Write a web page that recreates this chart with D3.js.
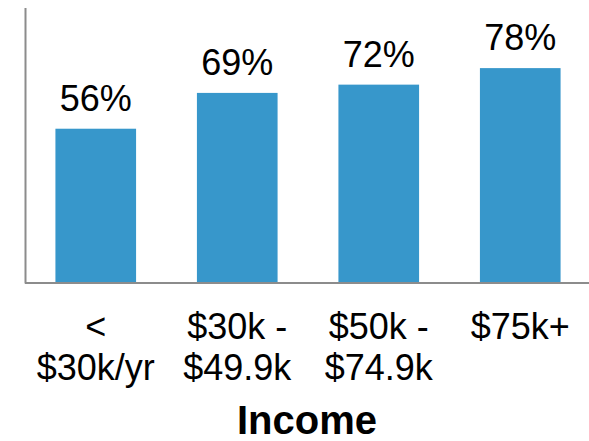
<!DOCTYPE html>
<html>
<head>
<meta charset="utf-8">
<script src="https://cdn.jsdelivr.net/npm/d3@7"></script>
<style>
  body { margin: 0; background: #fff; }
  text { font-family: "Liberation Sans", Arial, sans-serif; fill: #000; }
</style>
</head>
<body>
<svg id="chart"></svg>
<script>
// Data
var categories = ["< $30k/yr", "$30k - $49.9k", "$50k - $74.9k", "$75k+"];
var tickLines = [["<", "$30k/yr"], ["$30k -", "$49.9k"], ["$50k -", "$74.9k"], ["$75k+"]];
var values = [56, 69, 72, 78];
var xTitle = "Income";

// Chart dimensions
var width = 589, height = 441;
var margin = { top: 7.5, right: 0, bottom: 158, left: 25 };

var svg = d3.select("#chart")
  .attr("width", width)
  .attr("height", height);

// Scales
var xScale = d3.scaleBand()
  .domain(categories)
  .range([margin.left, margin.left + 4 * 141.5])
  .paddingInner(0.43)
  .paddingOuter(0.215);

var yScale = d3.scaleLinear()
  .domain([0, 100])
  .range([height - margin.bottom, margin.top]);

// Bars
svg.selectAll(".bar")
  .data(values)
  .enter().append("rect")
  .attr("class", "bar")
  .attr("x", function(d, i) { return xScale(categories[i]); })
  .attr("y", function(d) { return yScale(d); })
  .attr("width", xScale.bandwidth())
  .attr("height", function(d) { return yScale(0) - yScale(d); })
  .style("fill", "#3797cb");

// Value labels
svg.selectAll(".value")
  .data(values)
  .enter().append("text")
  .attr("class", "value")
  .attr("x", function(d, i) { return xScale(categories[i]) + xScale.bandwidth() / 2; })
  .attr("y", function(d) { return yScale(d) - 18; })
  .style("text-anchor", "middle")
  .style("font-size", "36px")
  .text(function(d) { return d + "%"; });

// Axes lines (no ticks)
var xAxis = d3.axisBottom(xScale).tickSize(0).tickFormat("");
svg.append("g")
  .attr("class", "x-axis")
  .attr("transform", "translate(0," + yScale(0) + ")")
  .call(xAxis)
  .select(".domain")
  .attr("d", "M" + margin.left + ",0H" + width)
  .style("stroke", "#8c8c8c")
  .style("stroke-width", 2);

var yAxis = d3.axisLeft(yScale).tickSize(0).tickFormat("");
svg.append("g")
  .attr("class", "y-axis")
  .attr("transform", "translate(" + margin.left + ",0)")
  .call(yAxis)
  .select(".domain")
  .style("stroke", "#8c8c8c")
  .style("stroke-width", 2);

// Category labels, two lines each
var tick = svg.selectAll(".tick-label")
  .data(categories)
  .enter().append("text")
  .attr("class", "tick-label")
  .attr("x", function(d) { return xScale(d) + xScale.bandwidth() / 2; })
  .attr("y", 339)
  .style("text-anchor", "middle")
  .style("font-size", "36px");

tick.selectAll("tspan")
  .data(function(d, i) { return tickLines[i]; })
  .enter().append("tspan")
  .attr("x", function() { return d3.select(this.parentNode).attr("x"); })
  .attr("dy", function(d, j) { return j === 0 ? 0 : 41; })
  .text(function(d) { return d; });

// Axis title
svg.append("text")
  .attr("class", "axis-label")
  .attr("x", (margin.left + width) / 2)
  .attr("y", 434)
  .style("text-anchor", "middle")
  .style("font-size", "40px")
  .style("font-weight", "bold")
  .text(xTitle);
</script>
</body>
</html>
